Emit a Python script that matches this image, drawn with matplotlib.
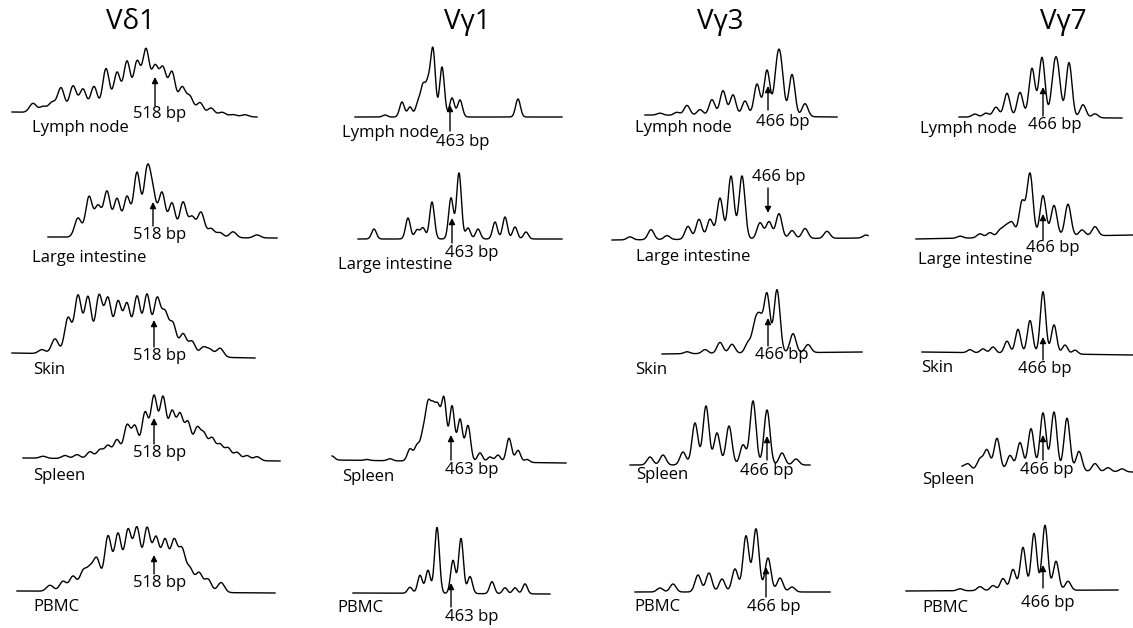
import numpy as np
import matplotlib
matplotlib.use("Agg")
import matplotlib.pyplot as plt

plt.rcParams['font.family'] = ['Open Sans', 'DejaVu Sans']

# column titles
titles = ["V\u03b41", "V\u03b31", "V\u03b33", "V\u03b37"]
title_x = [130, 467, 720, 1063]

# ---- peak positions / heights (pixels) ----
# V delta 1
vd1_lymph_x = [33, 43, 52, 61, 73, 83, 94, 106, 117, 127, 137, 146, 155, 163, 172, 182, 190, 200, 211, 222, 233, 245]
vd1_lymph_h = [9, 6, 10, 25, 27, 24, 27, 45, 41, 52, 51, 63, 45, 44, 42, 27, 18, 13, 8, 4, 2, 2]
vd1_li_x = [78, 89, 98, 107, 117, 127, 137, 147, 153, 162, 172, 183, 192, 201, 211, 220, 233, 257]
vd1_li_h = [19, 40, 30, 45, 38, 40, 64, 63, 38, 44, 34, 35, 20, 25, 9, 5, 6, 3]
vd1_skin_x = [42, 55, 68, 78, 88, 99, 108, 118, 127, 137, 147, 157, 165, 173, 183, 192, 203, 210, 220]
vd1_skin_h = [4, 15, 36, 58, 57, 58, 55, 52, 50, 58, 60, 55, 40, 31, 22, 15, 9, 7, 9]
vd1_spleen_x = [43, 65, 77, 90, 100, 108, 117, 127, 135, 145, 154, 163, 172, 180, 188, 197, 204, 212, 220, 228, 237, 247, 257]
vd1_spleen_h = [2, 3, 4, 7, 9, 13, 19, 33, 32, 46, 62, 61, 46, 43, 36, 30, 24, 21, 15, 12, 8, 5, 4]
vd1_pbmc_x = [50, 63, 73, 83, 90, 97, 108, 118, 128, 137, 147, 156, 165, 174, 182, 190, 199, 208, 221]
vd1_pbmc_h = [6, 10, 15, 19, 20, 31, 55, 57, 60, 62, 62, 52, 50, 49, 40, 22, 19, 13, 10]

# V gamma 1 (no skin trace)
vg1_lymph_x = [385, 402, 410, 418, 423, 428, 433, 442, 452, 460, 518]
vg1_lymph_h = [2, 15, 10, 14, 29, 30, 66, 50, 19, 17, 18]
vg1_li_x = [374, 408, 417, 423, 432, 451, 459, 468, 478, 495, 505, 515, 526]
vg1_li_h = [10, 21, 9, 11, 37, 41, 66, 11, 10, 17, 22, 12, 7]
vg1_spleen_x = [332, 367, 390, 410, 417, 423, 428, 433, 438, 444, 452, 460, 468, 480, 490, 498, 509, 518, 527]
vg1_spleen_h = [4, 1, 2, 12, 15, 25, 50, 45, 47, 61, 55, 42, 36, 9, 5, 7, 24, 12, 3]
vg1_pbmc_x = [410, 420, 428, 437, 453, 461, 470, 492, 505, 515, 525]
vg1_pbmc_h = [6, 18, 23, 66, 33, 55, 17, 12, 6, 6, 10]

# V gamma 3
vg3_lymph_x = [660, 677, 687, 700, 712, 723, 733, 745, 757, 767, 777, 781, 792, 805]
vg3_lymph_h = [2, 3, 10, 6, 16, 25, 21, 15, 32, 46, 42, 42, 42, 13]
vg3_li_x = [630, 651, 667, 688, 699, 710, 720, 731, 742, 760, 769, 779, 792, 805, 827, 866]
vg3_li_h = [3, 10, 4, 13, 20, 20, 41, 63, 63, 16, 17, 25, 8, 10, 7, 3]
vg3_skin_x = [687, 705, 720, 732, 748, 755, 760, 767, 777, 793, 808]
vg3_skin_h = [2, 4, 11, 9, 10, 26, 30, 58, 63, 19, 8]
vg3_spleen_x = [650, 663, 683, 695, 706, 717, 729, 743, 753, 767, 782, 796]
vg3_spleen_h = [8, 10, 13, 42, 59, 32, 39, 20, 64, 55, 12, 6]
vg3_pbmc_x = [660, 673, 698, 709, 722, 735, 746, 756, 768, 780, 792]
vg3_pbmc_h = [4, 8, 17, 19, 13, 23, 56, 63, 34, 14, 5]

# V gamma 7
vg7_lymph_x = [975, 986, 996, 1007, 1020, 1032, 1042, 1054, 1058, 1069, 1083, 1095]
vg7_lymph_h = [3, 4, 10, 24, 25, 49, 60, 38, 38, 55, 13, 4]
vg7_li_x = [960, 980, 990, 1000, 1006, 1012, 1022, 1030, 1043, 1054, 1068, 1082, 1095]
vg7_li_h = [2, 4, 5, 7, 10, 14, 35, 63, 41, 31, 32, 6, 9]
vg7_skin_x = [970, 983, 993, 1007, 1018, 1030, 1043, 1054, 1065, 1075]
vg7_skin_h = [3, 4, 6, 12, 24, 33, 62, 29, 9, 4]
vg7_spleen_x = [962, 968, 980, 987, 997, 1010, 1020, 1031, 1043, 1054, 1067, 1079, 1095, 1108, 1122]
vg7_spleen_h = [3, 6, 11, 20, 32, 15, 28, 42, 58, 59, 53, 20, 8, 4, 3]
vg7_pbmc_x = [960, 980, 993, 1003, 1013, 1023, 1034, 1045, 1056, 1068]
vg7_pbmc_h = [2, 4, 5, 12, 21, 43, 57, 65, 29, 9]

# size marker labels
size_labels = ["518 bp", "463 bp", "466 bp", "466 bp"]

# traces: (peak x, peak h, x start, x end, base left, base right, width,
#          tissue, label x, label y, arrow x, arrow tip, arrow tail, bp x, bp y, column)
traces = [
    (vd1_lymph_x, vd1_lymph_h, 12, 257, 112, 117, 3.5, "Lymph node", 32, 128, 155, 77, 106, 160, 114, 0),
    (vd1_li_x, vd1_li_h, 48, 277, 237, 238, 3.4, "Large intestine", 32, 258, 153, 202, 226, 160, 235, 0),
    (vd1_skin_x, vd1_skin_h, 12, 255, 353, 358, 3.5, "Skin", 33, 370, 154, 320, 347, 160, 356, 0),
    (vd1_spleen_x, vd1_spleen_h, 23, 280, 458, 461, 3.3, "Spleen", 33, 476, 154, 418, 444, 160, 453, 0),
    (vd1_pbmc_x, vd1_pbmc_h, 17, 275, 591, 593, 3.5, "PBMC", 33, 607, 154, 555, 574, 160, 583, 0),
    (vg1_lymph_x, vg1_lymph_h, 355, 562, 117, 117, 2.4, "Lymph node", 342, 133, 450, 105, 131, 463, 142, 1),
    (vg1_li_x, vg1_li_h, 358, 562, 239, 239, 2.4, "Large intestine", 338, 265, 452, 218, 243, 472, 253, 1),
    (vg1_spleen_x, vg1_spleen_h, 332, 566, 460, 463, 2.6, "Spleen", 342, 477, 451, 435, 460, 472, 470, 1),
    (vg1_pbmc_x, vg1_pbmc_h, 353, 550, 593, 594, 2.4, "PBMC", 337, 608, 451, 583, 607, 472, 617, 1),
    (vg3_lymph_x, vg3_lymph_h, 645, 837, 115, 117, 3.0, "Lymph node", 635, 128, 768, 86, 110, 783, 122, 2),
    (vg3_li_x, vg3_li_h, 612, 868, 240, 238, 3.0, "Large intestine", 636, 257, 768, 213, 188, 779, 177, 2),
    (vg3_skin_x, vg3_skin_h, 662, 862, 354, 352, 3.0, "Skin", 635, 370, 768, 318, 346, 782, 355, 2),
    (vg3_spleen_x, vg3_spleen_h, 630, 810, 465, 465, 3.0, "Spleen", 636, 475, 767, 436, 460, 767, 471, 2),
    (vg3_pbmc_x, vg3_pbmc_h, 635, 830, 592, 592, 3.0, "PBMC", 634, 607, 766, 567, 597, 774, 607, 2),
    (vg7_lymph_x, vg7_lymph_h, 959, 1122, 117, 118, 3.0, "Lymph node", 920, 129, 1043, 87, 116, 1055, 125, 3),
    (vg7_li_x, vg7_li_h, 916, 1133, 239, 235, 3.0, "Large intestine", 918, 260, 1043, 214, 240, 1053, 248, 3),
    (vg7_skin_x, vg7_skin_h, 922, 1133, 352, 355, 2.7, "Skin", 921, 368, 1043, 337, 360, 1045, 369, 3),
    (vg7_spleen_x, vg7_spleen_h, 962, 1133, 470, 472, 3.0, "Spleen", 922, 480, 1043, 435, 460, 1047, 470, 3),
    (vg7_pbmc_x, vg7_pbmc_h, 906, 1118, 591, 590, 2.8, "PBMC", 922, 608, 1043, 565, 588, 1048, 603, 3),
]

fig = plt.figure(figsize=(11.33, 6.28), dpi=100)
ax = fig.add_axes([0, 0, 1, 1])
ax.set_xlim(0, 1133)
ax.set_ylim(628, 0)
ax.axis('off')

for t, tx in zip(titles, title_x):
    ax.text(tx, 22, t, fontsize=20, ha='center', va='center')

for (px, ph, x0, x1, b0, b1, w, tissue, lx, ly, axx, tip, tail, bx, by, col) in traces:
    xs = np.linspace(x0, x1, 800)
    base = b0 + (b1 - b0) * (xs - x0) / (x1 - x0)
    sig = np.zeros_like(xs)
    for p, h in zip(px, ph):
        sig += h * np.exp(-(xs - p) ** 2 / (2 * w ** 2))
    ax.plot(xs, base - sig, color='black', lw=1.0)
    ax.text(lx, ly, tissue, fontsize=12, ha='left', va='center')
    ax.annotate('', xy=(axx, tip), xytext=(axx, tail),
                arrowprops=dict(arrowstyle='-|>', color='black', lw=1.0,
                                mutation_scale=9, shrinkA=0, shrinkB=0))
    ax.text(bx, by, size_labels[col], fontsize=12, ha='center', va='center')

fig.savefig("out.png", dpi=100)
